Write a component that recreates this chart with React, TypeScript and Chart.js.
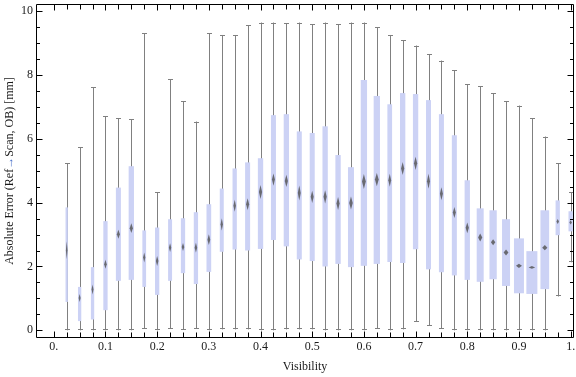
import { useEffect, useRef } from 'react';
import { Chart, registerables } from 'chart.js';

Chart.register(...registerables);

// ---------- data ----------
const visibility = [
  0.025, 0.05, 0.075, 0.1, 0.125, 0.15, 0.175, 0.2, 0.225, 0.25,
  0.275, 0.3, 0.325, 0.35, 0.375, 0.4, 0.425, 0.45, 0.475, 0.5,
  0.525, 0.55, 0.575, 0.6, 0.625, 0.65, 0.675, 0.7, 0.725, 0.75,
  0.775, 0.8, 0.825, 0.85, 0.875, 0.9, 0.925, 0.95, 0.975, 1.0,
];
const whiskerHigh = [
  5.23, 5.74, 7.61, 6.7, 6.65, 6.61, 9.3, 4.32, 7.86, 7.18,
  6.54, 9.3, 9.25, 9.25, 9.56, 9.64, 9.64, 9.61, 9.64, 9.58,
  9.64, 9.58, 9.64, 9.64, 9.49, 9.25, 9.09, 8.92, 8.65, 8.45,
  8.14, 7.7, 7.64, 7.42, 7.17, 7.04, 6.64, 6.07, 5.23, 4.32,
];
const quartile3 = [
  3.85, 1.36, 1.98, 3.42, 4.47, 5.14, 3.13, 3.22, 3.48, 3.51,
  3.7, 3.95, 4.44, 5.07, 5.26, 5.39, 6.74, 6.77, 6.23, 6.18,
  6.39, 5.49, 5.11, 7.84, 7.34, 7.08, 7.43, 7.4, 7.21, 6.77,
  6.11, 4.7, 3.82, 3.76, 3.48, 2.88, 2.48, 3.76, 4.07, 3.73,
];
const median = [
  2.51, 1.01, 1.28, 2.07, 3.01, 3.2, 2.28, 2.17, 2.59, 2.61,
  2.59, 2.84, 3.32, 3.9, 3.95, 4.33, 4.72, 4.68, 4.3, 4.18,
  4.18, 3.97, 3.99, 4.66, 4.72, 4.7, 5.07, 5.23, 4.67, 4.28,
  3.69, 3.21, 2.91, 2.76, 2.44, 2.02, 1.97, 2.59, 3.41, 3.38,
];
const quartile1 = [
  0.89, 0.29, 0.34, 0.63, 1.55, 1.58, 1.36, 1.11, 1.55, 1.79,
  1.45, 1.83, 2.46, 2.53, 2.5, 2.55, 2.83, 2.63, 2.22, 2.17,
  2.0, 2.08, 1.98, 2.02, 2.08, 2.14, 2.11, 2.54, 1.91, 1.82,
  1.72, 1.58, 1.52, 1.6, 1.39, 1.16, 1.14, 1.29, 2.98, 3.1,
];
const whiskerLow = [
  0, 0, 0, 0, 0, 0, 0.05, 0, 0.05, 0.02,
  0.05, 0, 0.03, 0.03, 0.03, 0, 0, 0.03, 0.03, 0.03,
  0, 0, 0, 0, 0.05, 0, 0.03, 0.27, 0.15, 0.05,
  0, 0, 0, 0, 0, 0, 0, 0, 1.06, 2.13,
];
// box width (in Visibility units) – encodes group size
const boxWidth = [
  0.0045, 0.0064, 0.0064, 0.0083, 0.0097, 0.0103, 0.0072, 0.0083, 0.0077, 0.0083,
  0.0083, 0.0091, 0.0077, 0.0083, 0.0097, 0.0103, 0.0097, 0.0103, 0.0097, 0.0097,
  0.0103, 0.0103, 0.0116, 0.0122, 0.0122, 0.0091, 0.0103, 0.0103, 0.0097, 0.0097,
  0.0097, 0.0103, 0.0135, 0.0141, 0.0155, 0.0193, 0.0213, 0.0168, 0.0083, 0.0083,
];
// median confidence span (full height, mm)
const medianSpan = [
  0.56, 0.25, 0.31, 0.28, 0.28, 0.31, 0.31, 0.31, 0.28, 0.25,
  0.31, 0.34, 0.38, 0.38, 0.38, 0.44, 0.38, 0.38, 0.47, 0.38,
  0.41, 0.41, 0.41, 0.47, 0.41, 0.41, 0.41, 0.41, 0.47, 0.41,
  0.34, 0.34, 0.25, 0.19, 0.19, 0.13, 0.09, 0.16, 0.16, 0.13,
];

const xTickValues = [0, 0.1, 0.2, 0.3, 0.4, 0.5, 0.6, 0.7, 0.8, 0.9, 1.0];
const xTickLabels = ['0.', '0.1', '0.2', '0.3', '0.4', '0.5', '0.6', '0.7', '0.8', '0.9', '1.'];
const yTickValues = [0, 2, 4, 6, 8, 10];
const yTickLabels = ['0', '2', '4', '6', '8', '10'];
const xTitle = 'Visibility';
const yTitleParts = ['Absolute Error (Ref', '\u2192', 'Scan, OB) [mm]'];

// ---------- styles ----------
const FONT = "'Liberation Serif', 'DejaVu Serif', serif";
const BOX_COLOR = 'rgb(204,210,245)';
const WHISKER_COLOR = 'rgb(128,128,128)';
const TEXT_COLOR = '#1a1a1a';

const boxPlugin = {
  id: 'boxWhisker',
  beforeDatasetsDraw(chart: any) {
    const { ctx, chartArea: a, scales } = chart;
    const xs = scales.x;
    const ys = scales.y;
    ctx.save();
    ctx.beginPath();
    ctx.rect(a.left, a.top, a.right - a.left, a.bottom - a.top);
    ctx.clip();
    for (let i = 0; i < visibility.length; i++) {
      const cx = xs.getPixelForValue(visibility[i]);
      const lx = Math.round(cx) + 0.5;
      const yHi = ys.getPixelForValue(whiskerHigh[i]);
      const yLo = ys.getPixelForValue(whiskerLow[i]);
      ctx.strokeStyle = WHISKER_COLOR;
      ctx.lineWidth = 1;
      ctx.beginPath();
      ctx.moveTo(lx, yHi);
      ctx.lineTo(lx, yLo);
      ctx.moveTo(lx - 2.5, Math.round(yHi) + 0.5);
      ctx.lineTo(lx + 2.5, Math.round(yHi) + 0.5);
      ctx.moveTo(lx - 2.5, Math.round(yLo) - 0.5);
      ctx.lineTo(lx + 2.5, Math.round(yLo) - 0.5);
      ctx.stroke();
      // box
      const x0 = xs.getPixelForValue(visibility[i] - boxWidth[i] / 2);
      const x1 = xs.getPixelForValue(visibility[i] + boxWidth[i] / 2);
      const yQ3 = ys.getPixelForValue(quartile3[i]);
      const yQ1 = ys.getPixelForValue(quartile1[i]);
      ctx.fillStyle = BOX_COLOR;
      ctx.fillRect(x0, yQ3, x1 - x0, yQ1 - yQ3);
    }
    // medians
    ctx.filter = 'blur(0.6px)';
    ctx.fillStyle = 'rgba(80,80,80,0.8)';
    for (let i = 0; i < visibility.length; i++) {
      const cx = xs.getPixelForValue(visibility[i]);
      const x0 = xs.getPixelForValue(visibility[i] - boxWidth[i] / 2);
      const x1 = xs.getPixelForValue(visibility[i] + boxWidth[i] / 2);
      const hw = Math.max(0.8, (x1 - x0) * 0.3);
      const cy = ys.getPixelForValue(median[i]);
      const yT = ys.getPixelForValue(median[i] + medianSpan[i] / 2);
      const yB = ys.getPixelForValue(median[i] - medianSpan[i] / 2);
      ctx.beginPath();
      ctx.moveTo(cx, yT);
      ctx.lineTo(cx + hw, cy);
      ctx.lineTo(cx, yB);
      ctx.lineTo(cx - hw, cy);
      ctx.closePath();
      ctx.fill();
    }
    ctx.filter = 'none';
    ctx.restore();
  },
  afterDraw(chart: any) {
    const { ctx, chartArea: a, scales } = chart;
    const xs = scales.x;
    const ys = scales.y;
    ctx.save();
    ctx.strokeStyle = '#000';
    ctx.lineWidth = 1;
    const L = Math.round(a.left) + 0.5;
    const R = Math.round(a.right) - 0.5;
    const T = Math.round(a.top) + 0.5;
    const B = Math.round(a.bottom) - 0.5;
    ctx.beginPath();
    ctx.rect(L, T, R - L, B - T);
    // x ticks every 0.025 on top and bottom
    for (let k = 0; k <= 40; k++) {
      const v = k * 0.025;
      const px = Math.round(xs.getPixelForValue(v)) + 0.5;
      if (px < L || px > R) continue;
      const len = k % 4 === 0 ? 6 : 5;
      ctx.moveTo(px, B);
      ctx.lineTo(px, B - len);
      ctx.moveTo(px, T);
      ctx.lineTo(px, T + len);
    }
    // y ticks every 0.5 on left and right
    for (let k = 0; k <= 20; k++) {
      const v = k * 0.5;
      const py = Math.round(ys.getPixelForValue(v)) + 0.5;
      const len = k % 4 === 0 ? 6 : 3.5;
      ctx.moveTo(L, py);
      ctx.lineTo(L + len, py);
      ctx.moveTo(R, py);
      ctx.lineTo(R - len, py);
    }
    ctx.stroke();

    // y-axis title with coloured arrow
    ctx.font = `12px ${FONT}`;
    ctx.textBaseline = 'middle';
    ctx.textAlign = 'left';
    const widths = yTitleParts.map((p) => ctx.measureText(p).width);
    const total = widths.reduce((s, w) => s + w, 0);
    const cyTitle = (a.top + a.bottom) / 2;
    ctx.translate(10, cyTitle);
    ctx.rotate(-Math.PI / 2);
    let x = -total / 2;
    yTitleParts.forEach((p, i) => {
      ctx.fillStyle = i === 1 ? 'rgb(70,110,200)' : TEXT_COLOR;
      ctx.fillText(p, x, 0);
      x += widths[i];
    });
    ctx.restore();
  },
};

export default function App() {
  const canvasRef = useRef<HTMLCanvasElement | null>(null);

  useEffect(() => {
    const canvas = canvasRef.current;
    if (!canvas) return;
    const chart = new Chart(canvas, {
      type: 'scatter',
      data: {
        datasets: [
          {
            label: 'median',
            data: visibility.map((v, i) => ({ x: v, y: median[i] })),
            pointRadius: 0,
            pointHoverRadius: 0,
          },
        ],
      },
      options: {
        animation: false,
        responsive: false,
        devicePixelRatio: 1,
        events: [],
        layout: { padding: { top: 4, right: 2, left: 0, bottom: 0 } },
        plugins: { legend: { display: false }, tooltip: { enabled: false } },
        scales: {
          x: {
            type: 'linear',
            min: -0.0344,
            max: 1.0065,
            grid: { display: false, drawTicks: false, tickLength: 0 },
            border: { display: false },
            afterBuildTicks: (s: any) => {
              s.ticks = xTickValues.map((v) => ({ value: v }));
            },
            afterFit: (s: any) => {
              s.height = 39;
              s.paddingLeft = 0;
              s.paddingRight = 0;
            },
            ticks: {
              autoSkip: false,
              maxRotation: 0,
              padding: 2,
              color: TEXT_COLOR,
              font: { family: FONT, size: 12 },
              callback: (_v: any, i: number) => xTickLabels[i],
            },
            title: {
              display: true,
              text: xTitle,
              color: TEXT_COLOR,
              font: { family: FONT, size: 12 },
              padding: { top: 0, bottom: 3 },
            },
          },
          y: {
            type: 'linear',
            min: -0.24,
            max: 10.22,
            grid: { display: false, drawTicks: false, tickLength: 0 },
            border: { display: false },
            afterBuildTicks: (s: any) => {
              s.ticks = yTickValues.map((v) => ({ value: v }));
            },
            afterFit: (s: any) => {
              s.width = 36;
              s.paddingTop = 0;
              s.paddingBottom = 0;
            },
            ticks: {
              autoSkip: false,
              padding: 3,
              color: TEXT_COLOR,
              font: { family: FONT, size: 12 },
              callback: (_v: any, i: number) => yTickLabels[i],
            },
            title: { display: false },
          },
        },
      },
      plugins: [boxPlugin],
    });
    return () => chart.destroy();
  }, []);

  return (
    <div style={{ position: 'absolute', left: 0, top: 0, width: 576, height: 377, background: '#fff' }}>
      <canvas ref={canvasRef} width={576} height={377} style={{ width: 576, height: 377 }} />
    </div>
  );
}
